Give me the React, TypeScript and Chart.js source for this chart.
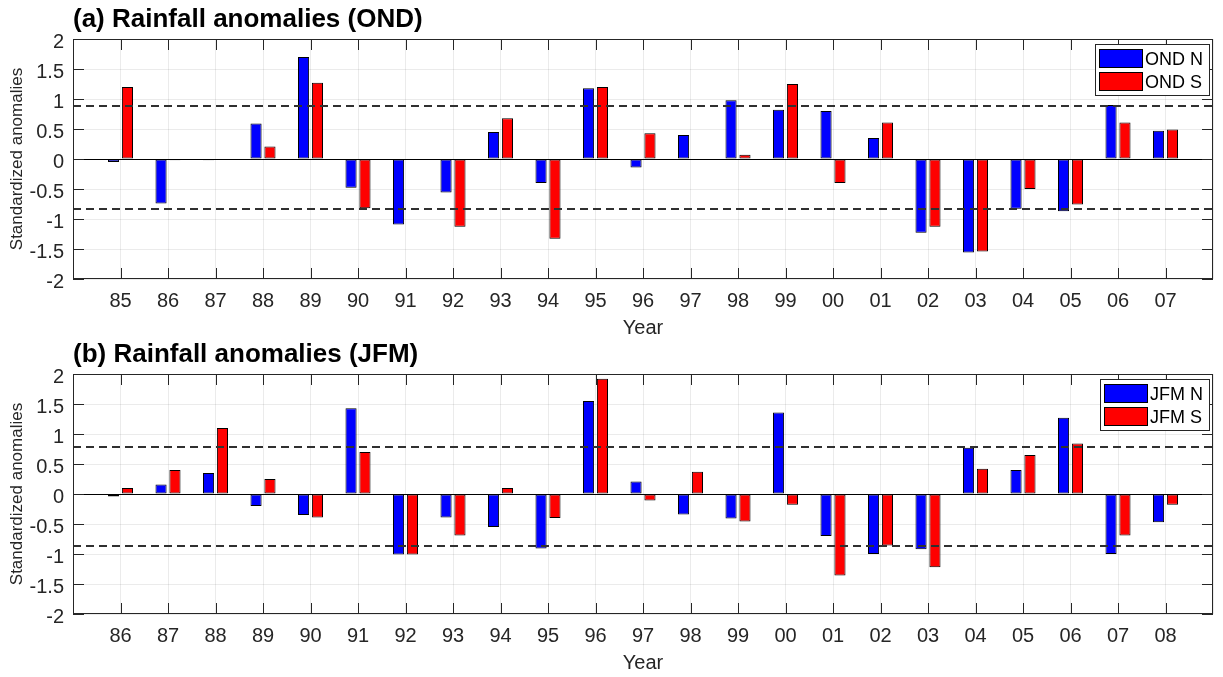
import React, { useEffect, useRef } from 'react';
import { Chart, registerables } from 'chart.js';

Chart.register(...registerables);

// ---------- data ----------
const ondYears = ['85', '86', '87', '88', '89', '90', '91', '92', '93', '94', '95', '96', '97', '98', '99', '00', '01', '02', '03', '04', '05', '06', '07'];
const ondNorth = [-0.05, -0.74, -0.02, 0.59, 1.70, -0.48, -1.09, -0.56, 0.45, -0.40, 1.18, -0.14, 0.40, 0.98, 0.82, 0.80, 0.35, -1.23, -1.56, -0.83, -0.87, 0.90, 0.47];
const ondSouth = [1.20, -0.02, 0.00, 0.21, 1.27, -0.82, 0.00, -1.13, 0.68, -1.33, 1.20, 0.43, 0.00, 0.07, 1.25, -0.40, 0.61, -1.13, -1.54, -0.50, -0.76, 0.61, 0.49];
const ondThresholds = [0.89, -0.83];

const jfmYears = ['86', '87', '88', '89', '90', '91', '92', '93', '94', '95', '96', '97', '98', '99', '00', '01', '02', '03', '04', '05', '06', '07', '08'];
const jfmNorth = [-0.04, 0.16, 0.35, -0.20, -0.35, 1.43, -1.01, -0.39, -0.55, -0.91, 1.55, 0.21, -0.34, -0.41, 1.36, -0.70, -1.00, -0.92, 0.77, 0.40, 1.27, -1.00, -0.47];
const jfmSouth = [0.10, 0.40, 1.10, 0.25, -0.39, 0.70, -1.01, -0.69, 0.10, -0.40, 1.92, -0.11, 0.37, -0.46, -0.18, -1.36, -0.86, -1.22, 0.42, 0.65, 0.84, -0.69, -0.18];
const jfmThresholds = [0.79, -0.86];

const yTicks = [-2, -1.5, -1, -0.5, 0, 0.5, 1, 1.5, 2];

// ---------- style ----------
const FONT = "'Liberation Sans', Arial, Helvetica, sans-serif";
const AXIS = '#262626';
const GRID = 'rgba(38,38,38,0.09)';
const BLUE = '#0000ff';
const RED = '#ff0000';
const W = 1223;
const H = 338;

const overlayPlugin = {
  id: 'matlabOverlay',
  afterDatasetsDraw(chart: any, _args: any, opts: any) {
    const { ctx, chartArea: a, scales } = chart;
    const xs = scales.x;
    const ys = scales.y;
    ctx.save();

    // threshold dashed lines
    ctx.strokeStyle = '#303030';
    ctx.lineWidth = 2;
    ctx.setLineDash([8, 5]);
    (opts.thresholds || []).forEach((t: number) => {
      const py = Math.round(ys.getPixelForValue(t));
      ctx.beginPath();
      ctx.moveTo(a.left, py);
      ctx.lineTo(a.right, py);
      ctx.stroke();
    });
    ctx.setLineDash([]);

    // inward ticks
    ctx.strokeStyle = AXIS;
    ctx.lineWidth = 1;
    const tl = 11;
    for (let i = 1; i < xs.ticks.length - 1; i++) {
      const px = Math.round(xs.getPixelForTick(i)) + 0.5;
      ctx.beginPath();
      ctx.moveTo(px, a.bottom);
      ctx.lineTo(px, a.bottom - tl);
      ctx.moveTo(px, a.top);
      ctx.lineTo(px, a.top + tl);
      ctx.stroke();
    }
    for (let i = 0; i < ys.ticks.length; i++) {
      const py = Math.round(ys.getPixelForTick(i)) + 0.5;
      ctx.beginPath();
      ctx.moveTo(a.left, py);
      ctx.lineTo(a.left + tl, py);
      ctx.moveTo(a.right, py);
      ctx.lineTo(a.right - tl, py);
      ctx.stroke();
    }

    // axes box
    ctx.strokeStyle = AXIS;
    ctx.lineWidth = 1;
    ctx.strokeRect(Math.round(a.left) + 0.5, Math.round(a.top) + 0.5, Math.round(a.width) - 1, Math.round(a.height) - 1);

    // panel title
    ctx.fillStyle = '#000';
    ctx.font = `bold 26px ${FONT}`;
    ctx.textBaseline = 'alphabetic';
    ctx.textAlign = 'left';
    ctx.fillText(opts.title, a.left, a.top - 12);

    // legend (inside, top right)
    const ds = chart.data.datasets;
    ctx.font = `18px ${FONT}`;
    const textW = Math.max(...ds.map((d: any) => ctx.measureText(d.label).width));
    const patchW = 44;
    const patchH = 19;
    const pitch = 23.5;
    const boxW = Math.round(4 + patchW + 3 + textW + 5);
    const boxH = Math.round(4.5 + pitch * (ds.length - 1) + patchH + 4);
    const bx = Math.round(a.right - 4 - boxW);
    const by = Math.round(a.top + 5);
    ctx.fillStyle = '#fff';
    ctx.fillRect(bx, by, boxW, boxH);
    ctx.strokeStyle = AXIS;
    ctx.strokeRect(bx + 0.5, by + 0.5, boxW, boxH);
    ds.forEach((d: any, i: number) => {
      const py = Math.round(by + 4.5 + i * pitch);
      ctx.fillStyle = d.backgroundColor;
      ctx.fillRect(bx + 4, py, patchW, patchH);
      ctx.strokeStyle = '#000';
      ctx.strokeRect(bx + 4.5, py + 0.5, patchW - 1, patchH - 1);
      ctx.fillStyle = '#000';
      ctx.textBaseline = 'alphabetic';
      ctx.fillText(d.label, bx + 4 + patchW + 2, py + patchH / 2 + 6.5);
    });

    ctx.restore();
  },
};

type PanelProps = {
  title: string;
  years: string[];
  north: number[];
  south: number[];
  thresholds: number[];
  names: string[];
  top: number;
};

function Panel({ title, years, north, south, thresholds, names, top }: PanelProps) {
  const ref = useRef<HTMLCanvasElement | null>(null);

  useEffect(() => {
    if (!ref.current) return;
    const labels = ['', ...years, ''];
    const pad = (v: number[]) => [null, ...v, null];
    const barStyle = {
      borderColor: '#000',
      borderWidth: 1,
      borderSkipped: false,
      categoryPercentage: 0.586,
      barPercentage: 0.8,
    };
    const chart = new Chart(ref.current, {
      type: 'bar',
      data: {
        labels,
        datasets: [
          { label: names[0], data: pad(north), backgroundColor: BLUE, ...barStyle },
          { label: names[1], data: pad(south), backgroundColor: RED, ...barStyle },
        ],
      } as any,
      options: {
        responsive: false,
        animation: false,
        devicePixelRatio: 1,
        layout: { padding: { top: 39, right: 4, left: 0, bottom: 0 } },
        plugins: {
          legend: { display: false },
          tooltip: { enabled: false },
          title: { display: false },
          matlabOverlay: { title, thresholds },
        } as any,
        scales: {
          x: {
            type: 'category',
            offset: false,
            grid: { color: GRID, drawTicks: false, offset: false },
            border: { display: false },
            ticks: {
              autoSkip: false,
              maxRotation: 0,
              color: AXIS,
              padding: 10,
              font: { family: FONT, size: 20 },
            },
            title: {
              display: true,
              text: 'Year',
              color: AXIS,
              font: { family: FONT, size: 20, lineHeight: 1 },
              padding: { top: 0, bottom: 0 },
            },
            afterFit: (s: any) => {
              s.height = H - 279;
            },
          },
          y: {
            type: 'linear',
            min: -2,
            max: 2,
            afterBuildTicks: (s: any) => {
              s.ticks = yTicks.map((v) => ({ value: v }));
            },
            grid: {
              color: (c: any) => (c.tick && c.tick.value === 0 ? '#000' : GRID),
              drawTicks: false,
            },
            border: { display: false },
            ticks: {
              color: AXIS,
              padding: 9,
              labelOffset: 3,
              font: { family: FONT, size: 20 },
              callback: (v: any) => String(v),
            },
            title: {
              display: true,
              text: 'Standardized anomalies',
              color: AXIS,
              font: { family: FONT, size: 17 },
              padding: { top: 7, bottom: 0 },
            },
            afterFit: (s: any) => {
              s.width = 73;
            },
          },
        } as any,
      },
      plugins: [overlayPlugin as any],
    });
    return () => chart.destroy();
  }, [title, years, north, south, thresholds, names]);

  return (
    <canvas
      ref={ref}
      width={W}
      height={H}
      style={{ position: 'absolute', left: 0, top, width: W, height: H, display: 'block' }}
    />
  );
}

export default function App() {
  return (
    <div style={{ position: 'absolute', left: 0, top: 0, width: W, height: 677, background: '#fff' }}>
      <Panel
        title="(a) Rainfall anomalies (OND)"
        years={ondYears}
        north={ondNorth}
        south={ondSouth}
        thresholds={ondThresholds}
        names={['OND N', 'OND S']}
        top={0}
      />
      <Panel
        title="(b) Rainfall anomalies (JFM)"
        years={jfmYears}
        north={jfmNorth}
        south={jfmSouth}
        thresholds={jfmThresholds}
        names={['JFM N', 'JFM S']}
        top={335}
      />
    </div>
  );
}
